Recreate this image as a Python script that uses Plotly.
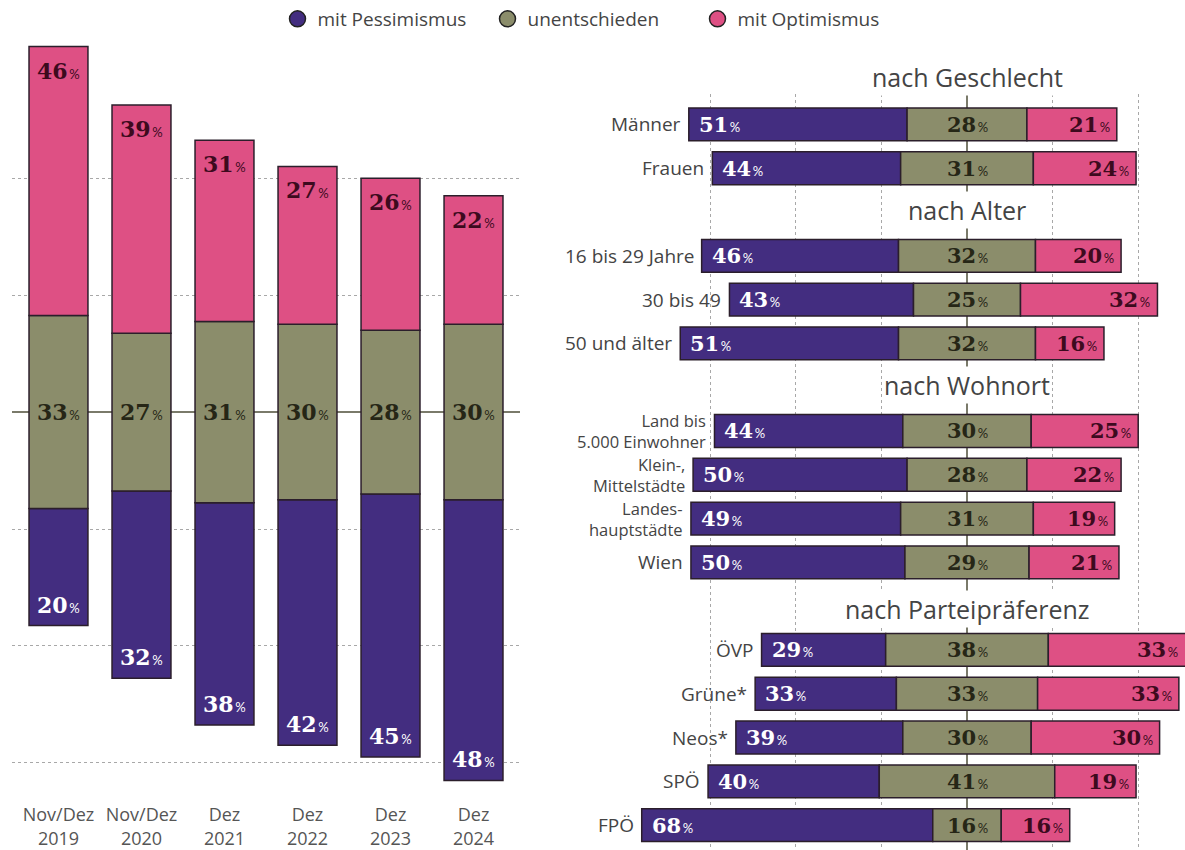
import plotly.graph_objects as go

# ---------------- data ----------------
periods = ["Nov/Dez 2019", "Nov/Dez 2020", "Dez 2021", "Dez 2022", "Dez 2023", "Dez 2024"]
period_ticks = ["Nov/Dez<br>2019", "Nov/Dez<br>2020", "Dez<br>2021", "Dez<br>2022", "Dez<br>2023", "Dez<br>2024"]
trend_pess = [20, 32, 38, 42, 45, 48]
trend_und = [33, 27, 31, 30, 28, 30]
trend_opt = [46, 39, 31, 27, 26, 22]

row_labels = ["Männer", "Frauen",
              "16 bis 29 Jahre", "30 bis 49", "50 und älter",
              "Land bis<br>5.000 Einwohner", "Klein-,<br>Mittelstädte", "Landes-<br>hauptstädte", "Wien",
              "ÖVP", "Grüne*", "Neos*", "SPÖ", "FPÖ"]
grp_pess = [51, 44, 46, 43, 51, 44, 50, 49, 50, 29, 33, 39, 40, 68]
grp_und = [28, 31, 32, 25, 32, 30, 28, 31, 29, 38, 33, 30, 41, 16]
grp_opt = [21, 24, 20, 32, 16, 25, 22, 19, 21, 33, 33, 30, 19, 16]

section_titles = ["nach Geschlecht", "nach Alter", "nach Wohnort", "nach Parteipräferenz"]
legend_names = ["mit Pessimismus", "unentschieden", "mit Optimismus"]

# ---------------- layout helpers ----------------
row_pos = [0, 1, 3, 4, 5, 7, 8, 9, 10, 12, 13, 14, 15, 16]
title_px = [73, 207, 383, 608]

C_PESS = "#432d80"
C_UND = "#8b8d6b"
C_OPT = "#de5084"
OUTLINE = "#2b1e2b"
GRID = "#a8a8a8"
W, H = 1185, 850

NUM_FONT = "DejaVu Serif"
LBL_FONT = "Open Sans"


def lab(v, size=13):
    return f"<b>{v}</b><span style='font-size:{size}px;font-family:Lato'>\u2009%</span>"


# axes geometry (pixels)
L_X0, L_X1 = 12, 520
L_Y_BOTTOM = 790
L_CENTER, L_PX = 410, 5.875
R_X0, R_X1 = 600, 1185
R_Y_TOP = 90
R_CENTER, R_PX = 967, 4.28
R_ROW0, R_ROWPX = 121, 44
R_XMIN = -(R_CENTER - R_X0) / R_PX
R_XMAX = (R_X1 - R_CENTER) / R_PX

fig = go.Figure()

# ---------- left: trend (vertical diverging bars) ----------
left_base_p = [-(u / 2 + p) for p, u in zip(trend_pess, trend_und)]
left_base_u = [-u / 2 for u in trend_und]
left_base_o = [u / 2 for u in trend_und]
for vals, base, col in [(trend_pess, left_base_p, C_PESS),
                        (trend_und, left_base_u, C_UND),
                        (trend_opt, left_base_o, C_OPT)]:
    fig.add_trace(go.Bar(x=periods, y=vals, base=base, width=0.71,
                         marker=dict(color=col, line=dict(color=OUTLINE, width=1.5)),
                         showlegend=False, hoverinfo="skip",
                         xaxis="x", yaxis="y"))

# ---------- right: groups (horizontal diverging bars) ----------
r_base_p = [-(u / 2 + p) for p, u in zip(grp_pess, grp_und)]
r_base_u = [-u / 2 for u in grp_und]
r_base_o = [u / 2 for u in grp_und]
for vals, base, col in [(grp_pess, r_base_p, C_PESS),
                        (grp_und, r_base_u, C_UND),
                        (grp_opt, r_base_o, C_OPT)]:
    fig.add_trace(go.Bar(y=row_pos, x=vals, base=base, orientation="h", width=0.75,
                         marker=dict(color=col, line=dict(color=OUTLINE, width=1.5)),
                         showlegend=False, hoverinfo="skip",
                         xaxis="x2", yaxis="y2"))

# ---------- legend entries ----------
for name, col in zip(legend_names, [C_PESS, C_UND, C_OPT]):
    fig.add_trace(go.Scatter(x=[None], y=[None], mode="markers", name=name,
                             marker=dict(symbol="circle", size=20, color=col,
                                         line=dict(color="#222", width=1.5)),
                             xaxis="x", yaxis="y"))

ann = []
# left labels
for i, per in enumerate(periods):
    p, u, o = trend_pess[i], trend_und[i], trend_opt[i]
    ann.append(dict(x=per, y=u / 2 + o, xref="x", yref="y", yanchor="top", yshift=-9,
                    text=lab(o), showarrow=False,
                    font=dict(family=NUM_FONT, size=22, color="#3d0a1e")))
    ann.append(dict(x=per, y=0, xref="x", yref="y", yanchor="middle",
                    text=lab(u), showarrow=False,
                    font=dict(family=NUM_FONT, size=22, color="#262616")))
    ann.append(dict(x=per, y=-(u / 2 + p), xref="x", yref="y", yanchor="bottom", yshift=6,
                    text=lab(p), showarrow=False,
                    font=dict(family=NUM_FONT, size=22, color="white")))

# right labels
for i, rl in enumerate(row_labels):
    p, u, o = grp_pess[i], grp_und[i], grp_opt[i]
    yy = row_pos[i]
    ann.append(dict(x=-(u / 2 + p), y=yy, xref="x2", yref="y2", xanchor="left", xshift=8,
                    text=lab(p), showarrow=False,
                    font=dict(family=NUM_FONT, size=21, color="white")))
    ann.append(dict(x=0, y=yy, xref="x2", yref="y2", xanchor="center",
                    text=lab(u), showarrow=False,
                    font=dict(family=NUM_FONT, size=21, color="#262616")))
    ann.append(dict(x=min(u / 2 + o, R_XMAX), y=yy, xref="x2", yref="y2", xanchor="right", xshift=-5,
                    text=lab(o), showarrow=False,
                    font=dict(family=NUM_FONT, size=21, color="#3d0a1e")))
    multiline = "<br>" in rl
    ann.append(dict(x=-(u / 2 + p), y=yy, xref="x2", yref="y2", xanchor="right", xshift=-6,
                    text=rl, showarrow=False, align="right",
                    font=dict(family=LBL_FONT, size=16.5 if multiline else 19, color="#444")))

for t, ty in zip(section_titles, title_px):
    ann.append(dict(x=0, y=(H - ty) / H, xref="x2", yref="paper", xanchor="center", yanchor="middle",
                    text=t, showarrow=False, bgcolor="white",
                    font=dict(family=LBL_FONT, size=25, color="#444")))

fig.update_layout(
    width=W, height=H,
    margin=dict(l=0, r=0, t=0, b=0),
    paper_bgcolor="white", plot_bgcolor="rgba(0,0,0,0)",
    barmode="overlay",
    annotations=ann,
    showlegend=True,
    legend=dict(orientation="h", x=0.5, xanchor="center", y=1.005, yanchor="top",
                font=dict(family=LBL_FONT, size=19, color="#444"),
                entrywidthmode="pixels", entrywidth=165,
                bgcolor="rgba(0,0,0,0)"),
    xaxis=dict(domain=[L_X0 / W, L_X1 / W], type="category",
               range=[-0.56, len(periods) - 1 + 0.56],
               tickvals=periods, ticktext=period_ticks,
               tickfont=dict(family=LBL_FONT, size=18, color="#555"),
               showgrid=False, zeroline=False, showline=False, ticks="",
               ticklabelstandoff=12, anchor="y"),
    yaxis=dict(domain=[(H - L_Y_BOTTOM) / H, 1],
               range=[-(L_Y_BOTTOM - L_CENTER) / L_PX, L_CENTER / L_PX],
               tickvals=[-60, -40, -20, 20, 40], showticklabels=False,
               showgrid=True, gridcolor=GRID, griddash="dot", gridwidth=1.3,
               zeroline=True, zerolinecolor="#7a7a6a", zerolinewidth=1.5,
               anchor="x"),
    xaxis2=dict(domain=[R_X0 / W, R_X1 / W],
                range=[R_XMIN, R_XMAX],
                tickvals=[-60, -40, -20, 20, 40], showticklabels=False,
                showgrid=True, gridcolor=GRID, griddash="dot", gridwidth=1.3,
                zeroline=True, zerolinecolor="#7a7a6a", zerolinewidth=1.5,
                anchor="y2"),
    yaxis2=dict(domain=[0, (H - R_Y_TOP) / H],
                range=[(H - R_ROW0) / R_ROWPX, (R_Y_TOP - R_ROW0) / R_ROWPX],
                showticklabels=False, showgrid=False, zeroline=False,
                anchor="x2"),
)

fig.write_html("out.html", config={"displayModeBar": False},
               post_script="document.body.style.margin='0';document.body.style.overflow='hidden';")
